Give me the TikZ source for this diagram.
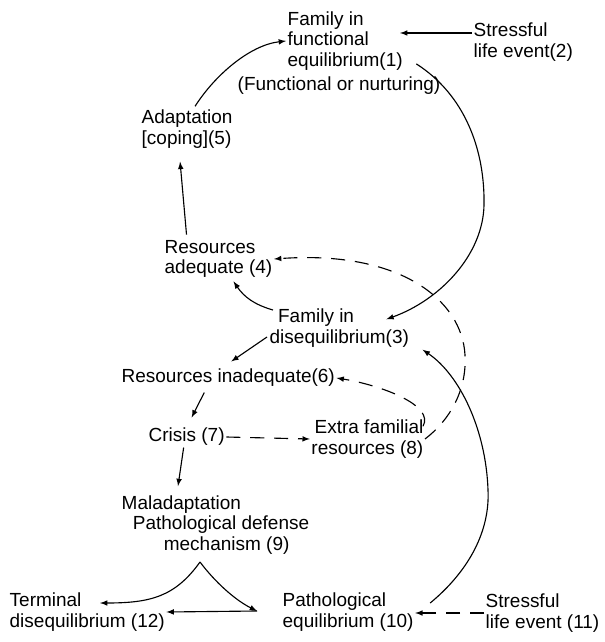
\documentclass[tikz,border=0pt]{standalone}
\usepackage{fontspec}
\setmainfont{Liberation Sans}
\usepackage{tikz}
\tikzset{state node/.style={align=left,inner sep=1pt,font=\fontsize{13.5}{14.5}\selectfont},
flow/.style={->,>=latex,line width=0.8pt},
alt flow/.style={flow,dash pattern=on 10pt off 7pt},}

\begin{document}
\begin{tikzpicture}[x=0.025cm,y=-0.025cm]
       \useasboundingbox (0,0) rectangle (604,642);
       \node[state node,anchor=west] (n1) at (286,41) {Family in\\functional\\equilibrium(1)};
       \node[state node] (n1note) at (339,86) {(Functional or nurturing)};
       \node[state node,anchor=west] (n2) at (472,42) {Stressful\\life event(2)};
       \node[state node,anchor=west] (n5) at (140,129) {Adaptation\\{[coping]}(5)};
       \node[state node,anchor=west] (n4) at (163,259) {Resources\\adequate (4)};
       \node[state node,anchor=west] (n3) at (268,328) {\hspace*{6pt}Family in\\disequilibrium(3)};
       \node[state node,anchor=west] (n6) at (120,378) {Resources inadequate(6)};
       \node[state node,anchor=west] (n7) at (147,437) {Crisis (7)};
       \node[state node,anchor=east,align=right] (n8) at (425,439) {Extra familial\\resources (8)};
       \node[state node,anchor=west] (n9) at (120,525) {Maladaptation\\\hspace*{8pt}Pathological defense\\\hspace*{30pt}mechanism (9)};
       \node[state node,anchor=west] (n12) at (8,612) {Terminal\\disequilibrium (12)};
       \node[state node,anchor=west] (n10) at (281,612) {Pathological\\equilibrium (10)};
       \node[state node,anchor=west] (n11) at (484,613) {Stressful\\life event (11)};
       \coordinate (n1in) at (400,33);
       \coordinate (apex) at (200,562);
       \coordinate (corner) at (257,611);

       \draw[flow] ([shift={(0,-9)}]n2.west) -- (n1in);
       \draw[flow] ([shift={(8,-2)}]n5.north) .. controls (215,75) and (250,45) .. (n1.west);
       \draw[flow] ([shift={(12,-8)}]n1.south east) .. controls (465,95) and (485,150) .. (484,205)
             .. controls (483,255) and (440,300) .. ([shift={(-18,12)}]n1.south east |- n3.north east);
       \draw[flow] ([shift={(-32,-4)}]n4.north) -- ([shift={(-7,12)}]n5.south);
       \draw[flow] ([shift={(5,-18)}]n3.west) to[bend left=20] ([shift={(15,2)}]n4.south);
       \draw[flow] ([shift={(-1,9)}]n3.west) -- ([shift={(3,-6)}]n6.north);
       \draw[flow] ([shift={(-24,4)}]n6.south) -- ([shift={(5,-9)}]n7.north);
       \draw[alt flow] (n7.east) -- (n8.west);
       \draw[alt flow] ([shift={(-2,8)}]n8.north east) .. controls (435,405) and (380,385) .. (n6.east);
       \draw[alt flow] (n8.east) .. controls (450,420) and (467,390) .. (465,355)
             .. controls (462,300) and (400,250) .. (n4.east);
       \draw[flow] ([shift={(15,-9)}]n10.east) .. controls (470,570) and (490,530) .. (488,490)
             .. controls (486,430) and (460,375) .. ([shift={(12,1)}]n3.south east);
       \draw[alt flow] (n11.west) -- (n11.west -| n10.east);
       \draw[flow] ([shift={(-3,0)}]n7.south) -- ([shift={(58,-8)}]n9.north west);
       \draw[flow] (apex) .. controls (175,597) and (150,603) .. ([shift={(92,-9)}]n12.west);
       \draw[flow] (apex) .. controls (215,582) and (235,600) .. (corner);
       \draw[flow] (corner) -- (n12.east);
\end{tikzpicture}
\end{document}
